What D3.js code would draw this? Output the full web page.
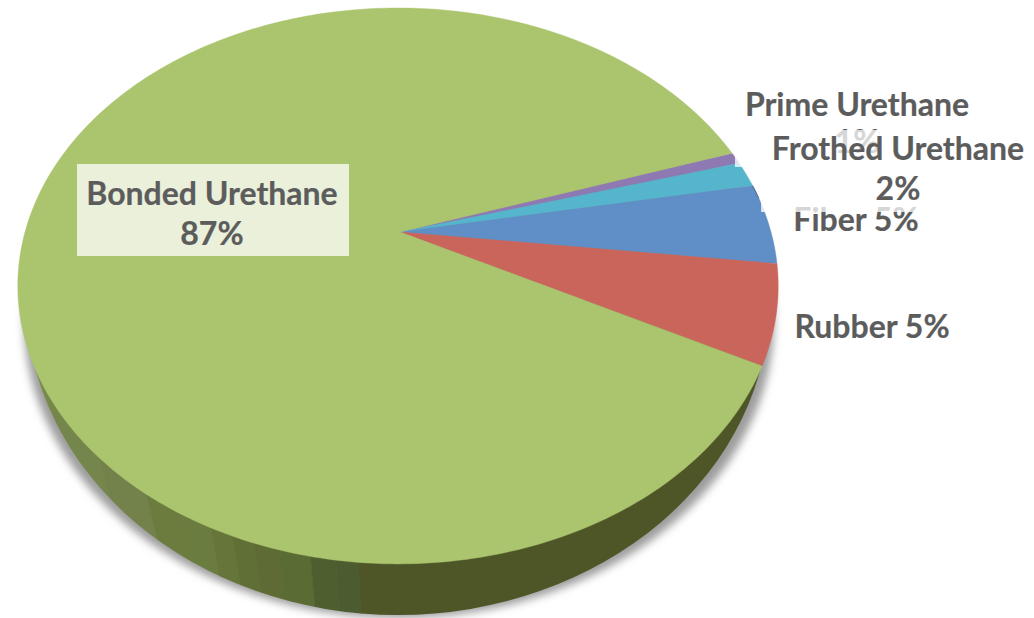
<!DOCTYPE html>
<html>
<head>
<meta charset="utf-8">
<script src="https://cdn.jsdelivr.net/npm/d3@7"></script>
<style>
  html, body { margin: 0; background: #fff; overflow: hidden; }
  text { font-family: Lato, "Open Sans", sans-serif; font-weight: 700; fill: #5c5c5c; stroke: #5c5c5c; stroke-width: 0.2; font-size: 32px; text-anchor: middle; }
</style>
</head>
<body>
<svg id="chart" width="1034" height="618"></svg>
<script>
// slice order runs clockwise from the top of the small slices
var categories = ['Prime Urethane', 'Frothed Urethane', 'Fiber', 'Rubber', 'Bonded Urethane'];
// shares as drawn on the pie (the labels round differently)
var shares = [0.7, 1.5, 4.7, 5.7, 87.4];
var percentLabels = ['1%', '2%', '5%', '5%', '87%'];
var sliceColors = ['#8f79b2', '#54b5cc', '#5f8fc6', '#ca655b', '#abc46e'];

// colour bands along the dark side wall, left to right
var wallBandEnds = [60, 95, 125, 160, 190, 215, 235, 255, 280, 310, 335, 358, 800];
var wallBandColors = ['#6e7f42', '#788a48', '#74864b', '#73824a', '#6b7c3e', '#6a7c3f', '#667539',
                      '#5f6f35', '#5f6b35', '#5a6b33', '#4f5e2e', '#4d5c30', '#4e5628'];

var svg = d3.select('#chart');
var defs = svg.append('defs');
defs.append('filter').attr('id', 'blur')
    .attr('x', '-10%').attr('y', '-10%').attr('width', '120%').attr('height', '120%')
    .append('feGaussianBlur').attr('stdDeviation', 4.5);

// the pie lies tilted, so its centre sits above the middle of the ellipse
var apexX = 398, apexY = 232, radius = 373, focal = 267.5, tilt = 0.194;
var hub = [400, 232];
function topPoint(angle) {
  var u = Math.sin(angle), v = -Math.cos(angle);
  var w = 1 - tilt * v;
  return [apexX + radius * u / w, apexY + focal * v / w];
}

var pie = d3.pie().sort(null)
            .startAngle(71.8 * Math.PI / 180)
            .endAngle((71.8 + 360) * Math.PI / 180);
var arcs = pie(shares);

var line = d3.line();
function rimPoints(a0, a1) {
  var steps = Math.max(2, Math.ceil((a1 - a0) * 60));
  var angle = d3.scaleLinear().domain([0, steps]).range([a0, a1]);
  return d3.range(steps + 1).map(function(i) { return topPoint(angle(i)); });
}
function slicePath(d) {
  return line([hub].concat(rimPoints(d.startAngle, d.endAngle))) + 'Z';
}

// shadow and side wall
var wallCx = 398, wallCy = 298, wallRx = 372, wallRy = 317;
svg.append('ellipse')
   .attr('cx', wallCx + 1).attr('cy', 320)
   .attr('rx', wallRx + 3).attr('ry', 298)
   .attr('fill', '#9c9c9c')
   .attr('filter', 'url(#blur)');

defs.append('clipPath').attr('id', 'wall-clip')
    .append('ellipse')
    .attr('cx', wallCx).attr('cy', wallCy)
    .attr('rx', wallRx).attr('ry', wallRy);

var wallG = svg.append('g').attr('clip-path', 'url(#wall-clip)');
wallG.selectAll('.wall-band')
     .data(wallBandEnds)
     .enter().append('path')
     .attr('class', 'wall-band')
     .attr('fill', function(d, i) { return wallBandColors[i]; })
     .attr('stroke', function(d, i) { return wallBandColors[i]; })
     .attr('stroke-width', 0.5)
     .attr('d', function(d, i) {
       // bands lean in towards the middle as they go down
       var x0 = i ? wallBandEnds[i - 1] : 0;
       function lean(x, y) { return x + (400 - x) * (y - 550) / 1000; }
       return line([[lean(x0, 300), 300], [lean(d, 300), 300], [lean(d, 618), 618], [lean(x0, 618), 618]]) + 'Z';
     });

// top of the pie
svg.selectAll('.slice')
   .data(arcs)
   .enter().append('path')
   .attr('class', 'slice')
   .attr('fill', function(d, i) { return sliceColors[i]; })
   .attr('stroke', function(d, i) { return sliceColors[i]; })
   .attr('stroke-width', 0.4)
   .attr('d', slicePath);

// thin dark sliver where the frothed slice lifts off the fiber rim
svg.append('path')
   .attr('fill', 'none')
   .attr('stroke', '#3f5a6e')
   .attr('stroke-width', 0.8)
   .attr('d', line(rimPoints(arcs[2].startAngle, arcs[2].startAngle + 0.05)));

// labels, drawn in this order so the boxes wash over what is under them
var boxAlpha = 0.75;
function addBox(x, y, w, h) {
  svg.append('rect').attr('x', x).attr('y', y).attr('width', w).attr('height', h)
     .attr('fill', '#fff').attr('fill-opacity', boxAlpha);
}
function addText(x, y, str) {
  svg.append('text').attr('x', x).attr('y', y).text(str);
}

// Bonded Urethane
addBox(77, 164, 272, 92);
addText(212, 205, categories[4]);
addText(212, 245, percentLabels[4]);

// Rubber
addText(872, 338, categories[3] + ' ' + percentLabels[3]);

// Fiber
addText(856, 231, categories[2] + ' ' + percentLabels[2]);

// Prime Urethane
addBox(735, 88, 245, 79);
addText(857, 116, categories[0]);
addText(857, 153, percentLabels[0]);

// Frothed Urethane
addBox(761, 130, 273, 82);
addText(898, 160, categories[1]);
addText(898, 200, percentLabels[1]);
</script>
</body>
</html>
